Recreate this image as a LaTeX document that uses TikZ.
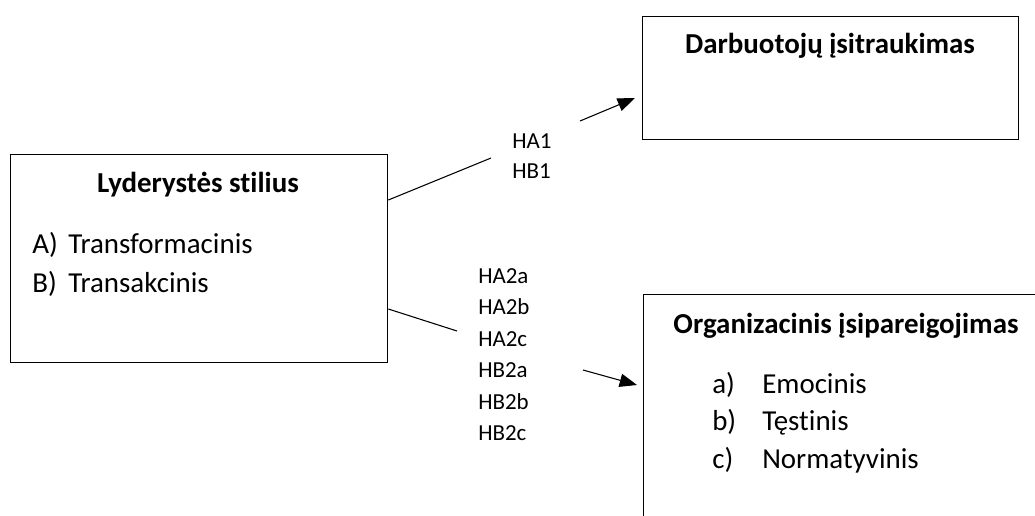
\documentclass[tikz,border=0pt]{standalone}
\usepackage{fontspec}
\setmainfont{Carlito}[RawFeature={-liga;-clig;-calt}]
\usetikzlibrary{arrows.meta}
\begin{document}
\begin{tikzpicture}[x=0.75pt,y=-0.75pt,
  box/.style={draw, line width=1pt, inner sep=0pt, anchor=north west},
  head/.style={font=\fontsize{21.7}{26}\selectfont\bfseries, anchor=base, inner sep=0pt},
  item/.style={font=\fontsize{21.7}{26}\selectfont, anchor=base west, inner sep=0pt},
  hyp/.style={font=\fontsize{17.2}{23}\selectfont, anchor=base west, inner sep=0pt},
  link/.style={line width=0.8pt},
  arr/.style={line width=0.8pt, -{Triangle[length=13pt,width=10pt]}}]
\path[use as bounding box] (0,0) rectangle (1035,515);
\clip (0,0) rectangle (1035,515);

% boxes
\node[box, minimum width=282.75pt, minimum height=156pt] (lead) at (10,154) {};
\node[box, minimum width=282pt, minimum height=92.25pt] (engage) at (642,16) {};
\node[box, minimum width=300pt, minimum height=180pt] (commit) at (643,294) {};

% leadership style
\node[head] (leadT) at (198,192) {Lyderystės st\kern0pt ilius};
\node[item] (lA) at (32,253) {A)};
\node[item] (lAt) at (68,253) {Transformacinis};
\node[item] (lB) at (32,292) {B)};
\node[item] (lBt) at (68,292) {Transakcinis};

% employee engagement
\node[head] (engT) at (830,53) {Darbuotojų įsit\kern0pt raukimas};

% organisational commitment
\node[head] (comT) at (846,333) {Organizacinis įsipareigojimas};
\node[item] (ca) at (712,393) {a)};
\node[item] (cat) at (762,393) {Emocinis};
\node[item] (cb) at (712,430.5) {b)};
\node[item] (cbt) at (762,430.5) {Tęst\kern0pt inis};
\node[item] (cc) at (712,468) {c)};
\node[item] (cct) at (762,468) {Normatyvinis};

% hypothesis labels
\node[hyp] (hA1) at (512,148) {HA1};
\node[hyp] (hB1) at (512,178) {HB1};
\node[hyp] (hA2a) at (478,283) {HA2a};
\node[hyp] (hA2b) at (478,314.5) {HA2b};
\node[hyp] (hA2c) at (478,346) {HA2c};
\node[hyp] (hB2a) at (478,377.5) {HB2a};
\node[hyp] (hB2b) at (478,409) {HB2b};
\node[hyp] (hB2c) at (478,440.5) {HB2c};

% connectors, broken around the labels
\coordinate (j1) at (491,158);
\coordinate (k1) at (580,121);
\coordinate (t1) at (635,98);
\coordinate (j2) at (457,331);
\coordinate (k2) at (583,370);
\coordinate (t2) at (637,385);
\draw[link] (lead.east |- 0,200) -- (j1);
\draw[arr] (k1) -- (t1);
\draw[link] (lead.east |- 0,309) -- (j2);
\draw[arr] (k2) -- (t2);
\end{tikzpicture}
\end{document}
